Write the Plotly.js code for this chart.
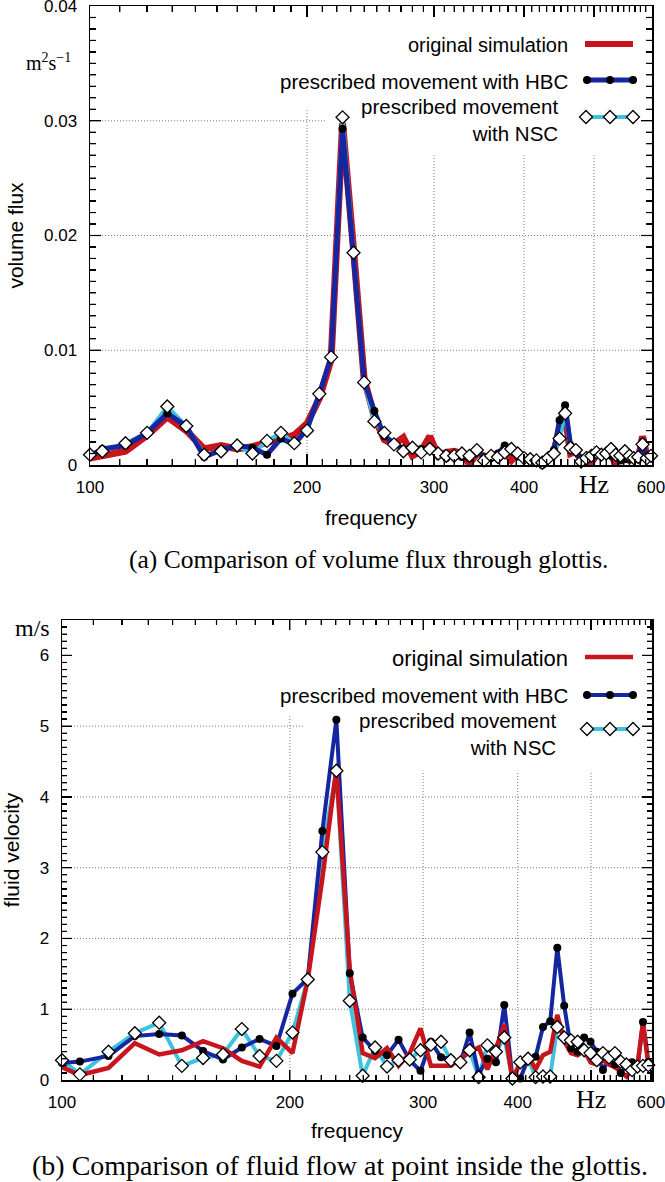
<!DOCTYPE html>
<html><head><meta charset="utf-8">
<script src="https://cdn.plot.ly/plotly-3.0.1.min.js"></script>
<style>html,body{margin:0;padding:0;background:#fff}#chart{width:665px;height:1182px}</style>
</head><body><div id="chart"></div>
<script>
// ---------- (a) volume flux through glottis ----------
const freqFlux = [100,104,112,120,128,136,144,152,
  160,168,176,184,192,200,208,216,
  224,232,240,248,256,264,272,280,
  288,296,304,312,320,328,336,344,
  352,360,368,376,384,392,400,408,
  416,424,432,440,448,456,464,472,
  480,488,496,504,512,520,528,536,
  544,552,560,568,576,584,592,600];
const fluxOriginal = [0.0006,0.0008,0.0012,0.0026,0.0042,0.0030,0.0014,0.0017,
  0.0014,0.0016,0.0019,0.0022,0.0026,0.0036,0.0058,0.0092,
  0.0298,0.0188,0.0075,0.0042,0.0022,0.0018,0.0024,0.0008,
  0.0012,0.0025,0.0008,0.0011,0.0012,0.0010,0.0001,0.0010,
  0.0008,0.0006,0.0009,0.0011,0.0004,0.0010,0.0007,0.0006,
  0.0004,0.0002,0.0008,0.0012,0.0030,0.0043,0.0010,0.0012,
  0.0004,0.0008,0.0002,0.0009,0.0008,0.0010,0.0009,0.0001,
  0.0008,0.0007,0.0004,0.0008,0.0005,0.0025,0.0008,0.0006];
const fluxHBC = [0.0008,0.0014,0.0017,0.0028,0.0045,0.0034,0.0007,0.0013,
  0.0017,0.0015,0.0009,0.0023,0.0018,0.0031,0.0062,0.0094,
  0.0293,0.0185,0.0073,0.0047,0.0025,0.0019,0.0014,0.0015,
  0.0014,0.0013,0.0010,0.0006,0.0009,0.0007,0.0006,0.0013,
  0.0006,0.0006,0.0010,0.0017,0.0013,0.0010,0.0006,0.0004,
  0.0003,0.0000,0.0007,0.0013,0.0039,0.0052,0.0017,0.0014,
  0.0003,0.0007,0.0007,0.0012,0.0009,0.0009,0.0008,0.0009,
  0.0004,0.0005,0.0005,0.0007,0.0006,0.0020,0.0006,0.0007];
const fluxNSC = [0.0009,0.0012,0.0019,0.0028,0.0051,0.0034,0.0009,0.0012,
  0.0017,0.0010,0.0021,0.0028,0.0019,0.0030,0.0062,0.0094,
  0.0303,0.0185,0.0072,0.0038,0.0028,0.0018,0.0012,0.0015,
  0.0011,0.0014,0.0010,0.0008,0.0008,0.0010,0.0008,0.0013,
  0.0004,0.0008,0.0007,0.0011,0.0014,0.0010,0.0006,0.0005,
  0.0004,0.0002,0.0006,0.0010,0.0023,0.0045,0.0015,0.0013,
  0.0003,0.0006,0.0008,0.0011,0.0009,0.0010,0.0014,0.0009,
  0.0008,0.0012,0.0008,0.0006,0.0007,0.0018,0.0006,0.0008];

// ---------- (b) fluid velocity at a point inside the glottis ----------
const freqVel = [100,105.6,115.2,124.8,134.4,144,153.6,163.2,
  172.8,182.4,192,201.6,211.2,220.8,230.4,240,
  249.6,259.2,268.8,278.4,288,297.6,307.2,316.8,
  326.4,336,345.6,355.2,364.8,374.4,384,393.6,
  403.2,412.8,422.4,432,441.6,451.2,460.8,470.4,
  480,489.6,499.2,508.8,518.4,528,537.6,547.2,
  556.8,566.4,576,585.6,595.2];
const velOriginal = [0.18,0.07,0.17,0.52,0.36,0.42,0.55,0.45,
  0.27,0.19,0.60,0.38,1.42,2.85,4.40,1.55,
  0.38,0.31,0.45,0.20,0.38,0.73,0.20,0.20,
  0.20,0.30,0.40,0.46,0.15,0.45,0.78,0.00,
  0.25,0.35,0.15,0.35,0.40,0.92,0.55,0.38,
  0.35,0.42,0.25,0.22,0.28,0.22,0.18,0.12,
  0.05,0.15,0.22,0.82,0.22];
const velHBC = [0.24,0.26,0.34,0.62,0.65,0.63,0.41,0.29,
  0.46,0.58,0.48,1.22,1.43,3.52,5.09,1.51,
  0.60,0.41,0.35,0.57,0.28,0.13,0.54,0.32,
  0.30,0.24,0.67,0.08,0.30,0.25,1.06,0.05,
  0.02,0.30,0.33,0.75,0.83,1.87,1.05,0.45,
  0.40,0.60,0.54,0.40,0.14,0.30,0.22,0.10,
  0.20,0.25,0.18,0.82,0.25];
const velNSC = [0.28,0.08,0.40,0.66,0.81,0.20,0.31,0.36,
  0.72,0.34,0.27,0.67,1.42,3.22,4.37,1.12,
  0.06,0.46,0.19,0.28,0.29,0.42,0.50,0.54,
  0.28,0.25,0.42,0.04,0.49,0.40,0.60,0.02,
  0.25,0.30,0.04,0.05,0.05,0.75,0.60,0.56,
  0.54,0.42,0.38,0.28,0.38,0.32,0.38,0.26,
  0.22,0.14,0.19,0.20,0.21];

const seriesNames = ['original simulation','prescribed movement with HBC','prescribed movement<br>with NSC'];
const SERIF = 'Liberation Serif, Times New Roman, serif';
const SANS = 'Liberation Sans, Arial, sans-serif';
const xTickVals = [100,200,300,400,500,600];
const xTickText = ['100','200','300','400','<span style="font-family:Liberation Serif;font-size:26px">Hz</span>','600'];
const fluxTickVals = [0,0.01,0.02,0.03,0.04];
const fluxTickText = ['0','0.01','0.02','0.03','0.04'];
const velTickVals = [0,1,2,3,4,5,6];
const velTickText = ['0','1','2','3','4','5','6'];
const gridFreq = [200,300,400,500];
const fluxGrid = [0.01,0.02,0.03];
const velGrid = [1,2,3,4,5];

const minorX = [];
for (let f = 110; f < 600; f += 10) { if (f % 100 !== 0) minorX.push(f); }
const minorFlux = [];
for (let i = 1; i < 40; i++) { if (i % 10 !== 0) minorFlux.push(i / 1000); }
const minorVel = [];
for (let i = 1; i < 65; i++) { if (i % 10 !== 0) minorVel.push(i / 10); }

const RED = '#c8141c', BLUE = '#1426a0', CYAN = '#3cc3e0';
const W = 665, H = 1182;
const px = (x) => x / W, py = (y) => 1 - y / H;
const xRange = [2, 2.7795];
const xMin = Math.pow(10, xRange[0]), xMax = Math.pow(10, xRange[1]);

function gridTrace(xa, ya, vTop200, vTopOther, hVals, hShortVal, hShortEnd) {
  const x = [], y = [];
  gridFreq.forEach(f => { x.push(f, f, null); y.push(0, f === 200 ? vTop200 : vTopOther, null); });
  hVals.forEach(v => { x.push(xMin, v === hShortVal ? hShortEnd : xMax, null); y.push(v, v, null); });
  return {x, y, xaxis:xa, yaxis:ya, type:'scatter', mode:'lines',
    line:{color:'#7a7a7a', width:1, dash:'1px,2px'}, hoverinfo:'skip', showlegend:false};
}
function lineTrace(x, y, color, width, xa, ya) {
  return {x, y, xaxis: xa, yaxis: ya, type: 'scatter', mode: 'lines',
    line: {color, width}, hoverinfo: 'skip', showlegend: false};
}
function dotTrace(x, y, xa, ya) {
  return {x, y, xaxis: xa, yaxis: ya, type: 'scatter', mode: 'markers', cliponaxis: false,
    marker: {symbol: 'circle', size: 8, color: '#000'}, showlegend: false};
}
function diamondTrace(x, y, xa, ya) {
  return {x, y, xaxis: xa, yaxis: ya, type: 'scatter', mode: 'markers', cliponaxis: false,
    marker: {symbol: 'diamond', size: 10, color: '#fff', line: {color: '#000', width: 1.3}}, showlegend: false};
}
function sample(x, y, color, width, sym) {
  const t = {x, y, xaxis:'x3', yaxis:'y3', type:'scatter', mode: sym ? 'lines+markers' : 'lines',
    line:{color, width}, showlegend:false, hoverinfo:'skip', cliponaxis:false};
  if (sym === 'circle') t.marker = {size:8, color:'#000'};
  if (sym === 'diamond') t.marker = {symbol:'diamond', size:10, color:'#fff', line:{color:'#000', width:1.3}};
  return t;
}

const traces = [
  gridTrace('x', 'y', 0.0310, 0.0270, fluxGrid, 0.03, 212),
  lineTrace(freqFlux, fluxOriginal, RED, 7, 'x', 'y'),
  lineTrace(freqFlux, fluxNSC, CYAN, 4, 'x', 'y'),
  lineTrace(freqFlux, fluxHBC, BLUE, 5, 'x', 'y'),
  dotTrace(freqFlux, fluxHBC, 'x', 'y'),
  diamondTrace(freqFlux, fluxNSC, 'x', 'y'),
  gridTrace('x2', 'y2', 5.14, 4.37, velGrid, 5, 209),
  lineTrace(freqVel, velNSC, CYAN, 4, 'x2', 'y2'),
  lineTrace(freqVel, velHBC, BLUE, 4, 'x2', 'y2'),
  lineTrace(freqVel, velOriginal, RED, 4.5, 'x2', 'y2'),
  dotTrace(freqVel, velHBC, 'x2', 'y2'),
  diamondTrace(freqVel, velNSC, 'x2', 'y2'),
  sample([585,633],[44,44], RED, 6),
  sample([587,610,633],[80,80,80], BLUE, 5, 'circle'),
  sample([586,610,633],[117,117,117], CYAN, 4, 'diamond'),
  sample([585,633],[657,657], RED, 4.5),
  sample([587,610,633],[695,695,695], BLUE, 4, 'circle'),
  sample([587,610,633],[729,729,729], CYAN, 4, 'diamond')
];

// inside tick marks on all four sides, drawn as top-layer shapes
const shapes = [];
function addTicks(xa, ya, yTop, pxPerDecade, pxPerUnit, yMajor, yMinor, majLen, minLen) {
  const L = {color:'#000', width:1.2};
  [[gridFreq, majLen], [minorX, minLen]].forEach(([vals, len]) => vals.forEach(f => {
    shapes.push({type:'line', xref:xa, yref:ya, x0:f, x1:f, y0:0, y1:len / pxPerUnit, layer:'above', line:L});
    shapes.push({type:'line', xref:xa, yref:ya, x0:f, x1:f, y0:yTop, y1:yTop - len / pxPerUnit, layer:'above', line:L});
  }));
  [[yMajor, majLen], [yMinor, minLen]].forEach(([vals, len]) => vals.forEach(v => {
    const fac = Math.pow(10, len / pxPerDecade);
    shapes.push({type:'line', xref:xa, yref:ya, x0:xMin, x1:xMin * fac, y0:v, y1:v, layer:'above', line:L});
    shapes.push({type:'line', xref:xa, yref:ya, x0:xMax, x1:xMax / fac, y0:v, y1:v, layer:'above', line:L});
  }));
}
addTicks('x', 'y', 0.04, 721, 459 / 0.04, fluxGrid, minorFlux, 11, 6);
addTicks('x2', 'y2', 6.5, 757, 460 / 6.5, [1,2,3,4,5,6], minorVel, 10, 5);

function xAxis(domain, anchor, major, minor, standoff) {
  return {domain, anchor, type:'log', range:xRange, tickmode:'array', tickvals:xTickVals, ticktext:xTickText,
    ticks:'inside', ticklen:major, tickwidth:1.2, tickcolor:'#000', mirror:'ticks', showline:true,
    linecolor:'#000', linewidth:1.5, showgrid:false, zeroline:false, ticklabeloverflow:'allow',
    ticklabelstandoff:6, tickfont:{family:SANS, size:17, color:'#000'},
    minor:{tickmode:'array', tickvals:minorX, ticks:'inside', ticklen:minor, tickwidth:1.2, tickcolor:'#000', showgrid:false},
    title:{text:'frequency', font:{family:SANS, size:21, color:'#000'}, standoff}};
}
function yAxis(domain, anchor, range, tv, tt, dmin, major, minor, title, standoff) {
  return {domain, anchor, range, tickmode:'array', tickvals:tv, ticktext:tt,
    ticks:'inside', ticklen:major, tickwidth:1.2, tickcolor:'#000', mirror:'ticks', showline:true,
    linecolor:'#000', linewidth:1.5, showgrid:false, zeroline:false, ticklabeloverflow:'allow',
    ticklabelstandoff:8, tickfont:{family:SANS, size:17, color:'#000'},
    minor:{dtick:dmin, ticks:'inside', ticklen:minor, tickwidth:1.2, tickcolor:'#000', showgrid:false},
    title:{text:title, font:{family:SANS, size:21, color:'#000'}, standoff}};
}

const ann = (text, x, y, size, family, xanchor) => ({
  text, x: px(x), y: py(y), xref:'paper', yref:'paper', showarrow:false, xanchor: xanchor || 'center', yanchor:'middle',
  align: xanchor === 'right' ? 'right' : 'center',
  font:{family, size, color:'#000'}});

const layout = {
  width:W, height:H, margin:{l:0,r:0,t:0,b:0},
  paper_bgcolor:'#fff', plot_bgcolor:'rgba(0,0,0,0)', showlegend:false,
  xaxis: xAxis([90/W, 652/W], 'y', 11, 6, 12),
  yaxis: yAxis([1-465/H, 1-6/H], 'x', [0,0.04], fluxTickVals, fluxTickText, 0.001, 11, 6, 'volume flux', 14),
  xaxis2: xAxis([62/W, 652/W], 'y2', 10, 5, 10),
  yaxis2: yAxis([1-1080/H, 1-620/H], 'x2', [0,6.5], velTickVals, velTickText, 0.1, 10, 5, 'fluid velocity', 20),
  xaxis3: {domain:[0,1], range:[0,W], anchor:'y3', visible:false, fixedrange:true},
  yaxis3: {domain:[0,1], range:[H,0], anchor:'x3', visible:false, fixedrange:true},
  shapes,
  annotations: [
    ann('m<sup>2</sup>s<sup>−1</sup>', 49, 62, 20, SERIF),
    ann('m/s', 32, 628, 24, SERIF),
    ann(seriesNames[0], 570, 45, 20, SANS, 'right'),
    ann(seriesNames[1], 570, 81, 20.5, SANS, 'right'),
    ann(seriesNames[2], 560, 120, 20.5, SANS, 'right'),
    ann(seriesNames[0], 570, 658, 22, SANS, 'right'),
    ann(seriesNames[1], 570, 695, 20.5, SANS, 'right'),
    ann(seriesNames[2], 558, 734, 20.5, SANS, 'right'),
    ann('(a) Comparison of volume flux through glottis.', 368, 559, 25.5, SERIF),
    ann('(b) Comparison of fluid flow at point inside the glottis.', 340, 1165, 28, SERIF)
  ]
};

Plotly.newPlot('chart', traces, layout, {displayModeBar:false, staticPlot:true});
</script>
</body></html>
